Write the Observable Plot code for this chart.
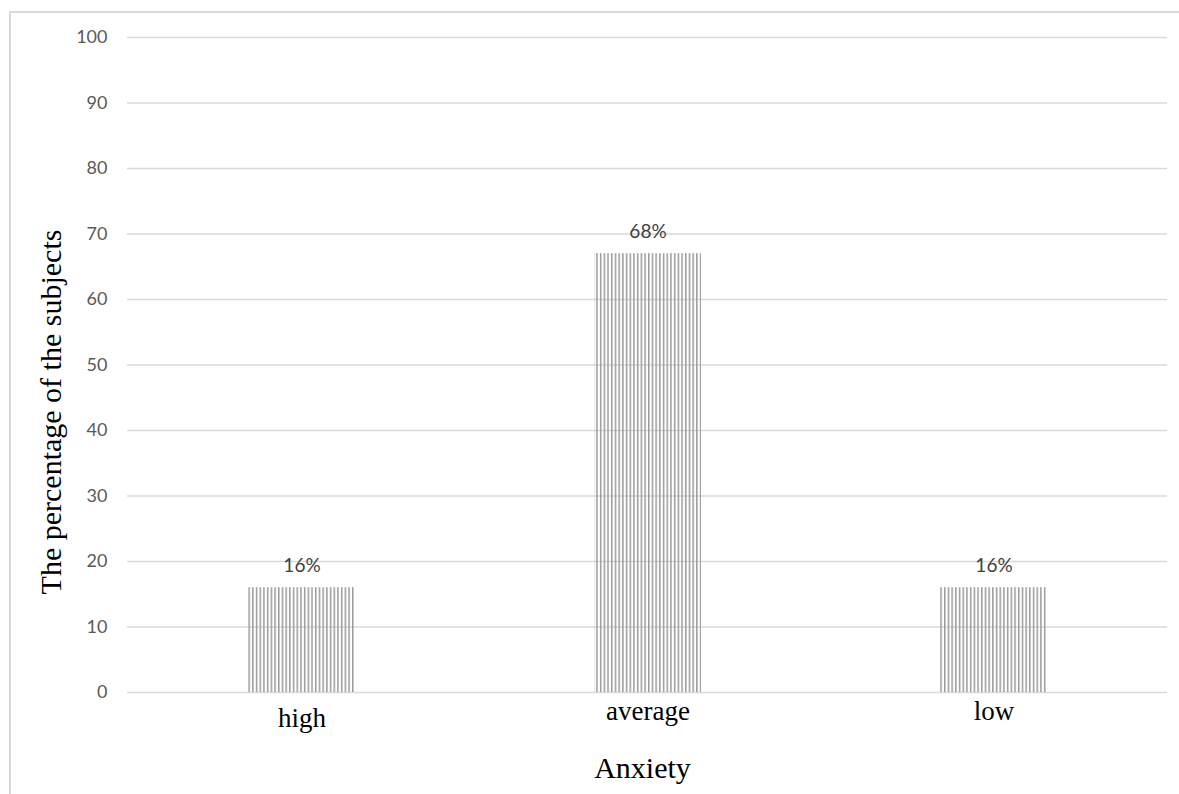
<!DOCTYPE html>
<html>
<head>
<meta charset="utf-8">
<script src="https://cdn.jsdelivr.net/npm/d3@7"></script>
<script src="https://cdn.jsdelivr.net/npm/@observablehq/plot@0.6"></script>
<style>
  html, body { margin: 0; padding: 0; background: #fff; }
  #wrap { position: relative; width: 1179px; height: 794px; overflow: hidden; }
  #frame { position: absolute; left: 9px; top: 11px; width: 1300px; height: 900px;
           border-left: 2px solid #d9d9d9; border-top: 2px solid #d9d9d9; box-sizing: border-box; }
  #chart { position: absolute; left: 0; top: 0; }
</style>
</head>
<body>
<div id="wrap"><div id="frame"></div><div id="chart"></div></div>
<script>
const categories = ["high", "average", "low"];
const values = [16, 67, 16];
const valueLabels = ["16%", "68%", "16%"];
const yTicks = [0, 10, 20, 30, 40, 50, 60, 70, 80, 90, 100];
const xTitle = "Anxiety";
const yTitle = "The percentage of the subjects";

const data = categories.map((c, i) => ({category: c, value: values[i], label: valueLabels[i]}));

const sans = "Lato, 'Open Sans', sans-serif";
const serif = "'Liberation Serif', 'DejaVu Serif', serif";

const chart = Plot.plot({
  width: 1179,
  height: 794,
  marginTop: 37,
  marginBottom: 102,
  marginLeft: 127,
  marginRight: 12,
  style: {background: "transparent"},
  x: {domain: categories, paddingInner: 0.692, paddingOuter: 0.346, label: null},
  y: {domain: [0, 100], ticks: yTicks, label: null},
  marks: [
    Plot.gridY(yTicks, {stroke: "#d9d9d9", strokeOpacity: 1, strokeWidth: 1.3}),
    Plot.barY(data, {x: "category", y: "value", fill: "url(#vstripes)"}),
    Plot.text(data, {x: "category", y: "value", text: "label", dy: -22, fill: "#404040",
      fontSize: 19, fontFamily: sans}),
    Plot.axisY(yTicks, {tickSize: 0, tickPadding: 20, fontSize: 18, fill: "#595959",
      fontFamily: sans, label: null}),
    Plot.axisX([categories[0]], {tickSize: 0, tickPadding: 15, fontSize: 27, fill: "#000",
      fontFamily: serif, label: null}),
    Plot.axisX(categories.slice(1), {tickSize: 0, tickPadding: 8, fontSize: 27, fill: "#000",
      fontFamily: serif, label: null}),
    Plot.text([xTitle], {frameAnchor: "bottom", dy: 85, dx: -5, fontSize: 30, fill: "#000",
      fontFamily: serif}),
    Plot.text([yTitle], {frameAnchor: "left", textAnchor: "middle", rotate: -90, dx: -76, dy: 47,
      fontSize: 30, fill: "#000", fontFamily: serif})
  ]
});

const ns = "http://www.w3.org/2000/svg";
const defs = document.createElementNS(ns, "defs");
const pat = document.createElementNS(ns, "pattern");
pat.setAttribute("id", "vstripes");
pat.setAttribute("patternUnits", "userSpaceOnUse");
pat.setAttribute("width", "3.7");
pat.setAttribute("height", "10");
pat.setAttribute("x", "0.5");
const r = document.createElementNS(ns, "rect");
r.setAttribute("x", "0");
r.setAttribute("y", "0");
r.setAttribute("width", "1.5");
r.setAttribute("height", "10");
r.setAttribute("fill", "#9a9a9a");
pat.appendChild(r);
defs.appendChild(pat);
chart.insertBefore(defs, chart.firstChild);

document.getElementById("chart").appendChild(chart);
</script>
</body>
</html>
